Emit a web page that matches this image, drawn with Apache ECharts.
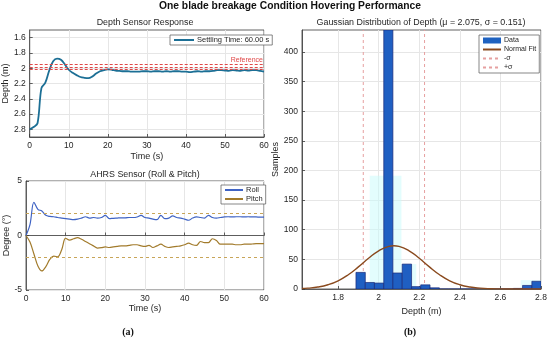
<!DOCTYPE html>
<html><head><meta charset="utf-8">
<script src="https://cdn.jsdelivr.net/npm/echarts@6/dist/echarts.min.js"></script>
<style>html,body{margin:0;padding:0;background:#fff}#c{width:550px;height:341px}</style>
</head><body><div id="c"></div>
<script>
// ---- data ----
const timeS = [0,1,2,3,4,5,6,7,8,9,10,11,12,13,14,15,16,17,18,19,20,21,22,23,24,25,26,27,28,29,30,31,32,33,34,35,36,37,38,39,40,41,42,43,44,45,46,47,48,49,50,51,52,53,54,55,56,57,58,59,60];
const depth = [2.80,2.77,2.72,2.26,2.19,2.03,1.91,1.875,1.89,1.95,2.02,2.06,2.09,2.115,2.125,2.13,2.11,2.07,2.04,2.025,2.015,2.02,2.03,2.035,2.04,2.04,2.045,2.045,2.045,2.04,2.04,2.045,2.04,2.04,2.045,2.04,2.045,2.04,2.04,2.045,2.045,2.05,2.045,2.04,2.045,2.04,2.04,2.035,2.025,2.025,2.03,2.035,2.025,2.03,2.035,2.025,2.03,2.025,2.025,2.035,2.045];
const refLines = [1.95, 1.985, 2.02];
const depthTicks = [1.6,1.8,2,2.2,2.4,2.6,2.8];
const roll = [0,1.0,3.05,2.4,2.25,1.85,1.75,1.72,1.65,1.6,1.55,1.5,1.45,1.5,1.6,1.72,1.6,1.65,1.6,1.65,1.85,1.55,1.58,1.6,1.62,1.62,1.65,1.65,1.7,1.85,1.65,1.6,1.5,1.45,1.85,1.55,1.6,1.8,1.65,1.6,1.5,1.4,1.6,1.7,1.65,1.6,1.85,1.65,1.6,1.65,1.7,1.72,1.7,1.72,1.72,1.7,1.72,1.7,1.7,1.68,1.68];
const pitch = [0,-0.6,-1.7,-2.8,-3.25,-2.85,-2.2,-1.9,-1.95,-1.3,-0.25,-0.42,-0.3,-0.2,-0.35,-0.55,-0.75,-0.95,-1.15,-1.12,-1.05,-1.1,-1.05,-1.0,-0.95,-0.95,-0.9,-0.85,-0.85,-0.95,-1.0,-0.9,-1.1,-0.95,-0.8,-1.0,-1.1,-1.05,-1.0,-0.95,-0.85,-0.7,-0.85,-0.9,-0.55,-0.65,-0.65,-0.3,-0.45,-0.8,-0.8,-0.8,-0.8,-0.85,-0.85,-0.8,-0.8,-0.78,-0.75,-0.75,-0.75];
const limitLines = [2, -2];
const binEdges = [1.888,1.934,1.979,2.025,2.070,2.116,2.162,2.207,2.253,2.299,2.344,2.390,2.436,2.481,2.527,2.572,2.618,2.664,2.709,2.755,2.800];
const binCounts = [28,11,10,437,27,42,4,7,2,0,0,0,0,0,0,0,0,1,6,13];
const fitX = [1.622,1.65,1.70,1.75,1.80,1.85,1.90,1.95,2.00,2.05,2.075,2.10,2.15,2.20,2.25,2.30,2.35,2.40,2.45,2.50,2.55,2.60,2.65,2.70,2.75,2.80];
const fitY = [0.8,1.4,3.3,7.2,13.9,24.1,37.3,51.8,64.5,72.0,73.0,72.0,64.5,51.8,37.3,24.1,13.9,7.2,3.3,1.4,0.5,0.17,0.05,0.01,0,0];
const sigmaLines = [1.924, 2.226];
const ghostAreas = [[1.956,2.112,191],[2.112,2.185,42],[2.70,2.80,15]];
const histXTicks = [1.8,2,2.2,2.4,2.6,2.8];
const histYTicks = [0,50,100,150,200,250,300,350,400];

// ---- styles ----
const FONT = 'Liberation Sans';
const TXT = '#262626';
const lbl = {color: TXT, fontSize: 8.5, fontFamily: FONT, margin: 4};
const split = {show: true, lineStyle: {color: '#e6e6e6', width: 1}};
const aline = {show: true, lineStyle: {color: '#3a3a3a', width: 0.8}};
const atick = {show: true, inside: true, length: 3, lineStyle: {color: '#3a3a3a', width: 0.8}};
const nameStyle = {color: TXT, fontSize: 9, fontFamily: FONT};
const subTitle = {fontSize: 8.9, fontWeight: 'normal', color: TXT, fontFamily: FONT};
const legBase = {orient: 'vertical', padding: [1, 3], backgroundColor: '#fff', borderColor: '#555', borderWidth: 0.7,
  borderRadius: 0, itemStyle: {opacity: 0}, textStyle: {fontSize: 7.5, color: TXT, fontFamily: FONT, padding: [0, 0, 0, -2]}};

const chart = echarts.init(document.getElementById('c'), null, {renderer: 'canvas'});
const option = {
  animation: false,
  backgroundColor: '#fff',
  title: [
    {text: 'One blade breakage Condition Hovering Performance', left: 290, textAlign: 'center', top: 1, padding: 0,
     textStyle: {fontSize: 10.3, fontWeight: 'bold', color: '#111', fontFamily: FONT}},
    {text: 'Depth Sensor Response', left: 145, textAlign: 'center', top: 18, padding: 0, textStyle: subTitle},
    {text: 'AHRS Sensor (Roll & Pitch)', left: 145, textAlign: 'center', top: 170, padding: 0, textStyle: subTitle},
    {text: 'Gaussian Distribution of Depth (\u03bc = 2.075, \u03c3 = 0.151)', left: 421, textAlign: 'center', top: 18, padding: 0, textStyle: subTitle},
    {text: '(a)', left: 128, textAlign: 'center', top: 327, padding: 0,
     textStyle: {fontSize: 10, fontWeight: 'bold', color: '#111', fontFamily: 'Liberation Serif'}},
    {text: '(b)', left: 410, textAlign: 'center', top: 327, padding: 0,
     textStyle: {fontSize: 10, fontWeight: 'bold', color: '#111', fontFamily: 'Liberation Serif'}}
  ],
  grid: [
    {left: 26, top: 30, width: 238, height: 107, show: true, borderColor: '#3a3a3a', borderWidth: 0.8, backgroundColor: 'transparent'},
    {left: 26, top: 181, width: 238, height: 109, show: true, borderColor: '#3a3a3a', borderWidth: 0.8, backgroundColor: 'transparent'},
    {left: 302, top: 30, width: 239, height: 259, show: true, borderColor: '#3a3a3a', borderWidth: 0.8, backgroundColor: 'transparent'}
  ],
  xAxis: [
    {type: 'value', gridIndex: 0, min: 0, max: 60, interval: 10, axisLabel: lbl, axisLine: aline, axisTick: atick, splitLine: split,
     name: 'Time (s)', nameLocation: 'middle', nameGap: 15, nameTextStyle: nameStyle},
    {type: 'value', gridIndex: 1, min: 0, max: 60, interval: 10, axisLabel: lbl, axisLine: aline, axisTick: atick, splitLine: split,
     name: 'Time (s)', nameLocation: 'middle', nameGap: 14, nameTextStyle: nameStyle},
    {type: 'value', gridIndex: 2, min: 1.622, max: 2.8,
     axisLabel: Object.assign({}, lbl, {customValues: histXTicks}), axisTick: Object.assign({}, atick, {customValues: histXTicks}),
     axisLine: aline, splitLine: split,
     name: 'Depth (m)', nameLocation: 'middle', nameGap: 14, nameTextStyle: nameStyle}
  ],
  yAxis: [
    {type: 'value', gridIndex: 0, inverse: true, min: 1.5, max: 2.9,
     axisLabel: Object.assign({}, lbl, {customValues: depthTicks}), axisTick: Object.assign({}, atick, {customValues: depthTicks}),
     axisLine: aline, splitLine: split,
     name: 'Depth (m)', nameLocation: 'middle', nameGap: 15, nameTextStyle: nameStyle},
    {type: 'value', gridIndex: 1, min: -5, max: 5, interval: 5, axisLabel: lbl, axisLine: aline, axisTick: atick, splitLine: split,
     name: 'Degree (\u00b0)', nameLocation: 'middle', nameGap: 14, nameTextStyle: nameStyle},
    {type: 'value', gridIndex: 2, min: 0, max: 437,
     axisLabel: Object.assign({}, lbl, {customValues: histYTicks}), axisTick: Object.assign({}, atick, {customValues: histYTicks}),
     axisLine: aline, splitLine: split,
     name: 'Samples', nameLocation: 'middle', nameGap: 20, nameTextStyle: nameStyle}
  ],
  legend: [
    Object.assign({}, legBase, {left: 170, top: 35, data: ['Settling Time: 60.00 s'], itemWidth: 20, itemHeight: 8}),
    Object.assign({}, legBase, {left: 221, top: 185, data: ['Roll', 'Pitch'], itemWidth: 18, itemHeight: 8, itemGap: 1}),
    Object.assign({}, legBase, {left: 479, top: 35, itemWidth: 18, itemHeight: 6, itemGap: 2, padding: [2, 3],
     data: [{name: 'Data', icon: 'rect', itemStyle: {opacity: 1}}, 'Normal Fit', '-\u03c3', '+\u03c3'],
     textStyle: {fontSize: 7, color: TXT, fontFamily: FONT, padding: [0, 0, 0, -2]}})
  ],
  series: [
    {name: 'Settling Time: 60.00 s', type: 'line', xAxisIndex: 0, yAxisIndex: 0, symbol: 'none', smooth: 0.35,
     data: timeS.map((t, i) => [t, depth[i]]), lineStyle: {color: '#1c6f95', width: 1.8}, itemStyle: {color: '#1c6f95'},
     markLine: {symbol: 'none', silent: true, animation: false,
       lineStyle: {type: [3, 2], color: '#e04848', width: 1},
       label: {show: false},
       data: refLines.map((v, i) => ({yAxis: v, label: i === 0 ? {show: true, formatter: 'Reference', position: 'insideEndTop', distance: [1, 1], color: '#e04848', fontSize: 7, fontFamily: FONT} : {show: false}}))}},
    {name: 'Roll', type: 'line', xAxisIndex: 1, yAxisIndex: 1, symbol: 'none', smooth: 0.35,
     data: timeS.map((t, i) => [t, roll[i]]), lineStyle: {color: '#3f63c4', width: 1.2}, itemStyle: {color: '#3f63c4'},
     markLine: {symbol: 'none', silent: true, animation: false,
       lineStyle: {type: [3, 3], color: '#c8a558', width: 1}, label: {show: false},
       data: limitLines.map(v => ({yAxis: v}))}},
    {name: 'Pitch', type: 'line', xAxisIndex: 1, yAxisIndex: 1, symbol: 'none', smooth: 0.35,
     data: timeS.map((t, i) => [t, pitch[i]]), lineStyle: {color: '#a27b2c', width: 1.2}, itemStyle: {color: '#a27b2c'}},
    {name: 'Data', type: 'custom', xAxisIndex: 2, yAxisIndex: 2, clip: true,
     data: binCounts.map((c, i) => [binEdges[i], binEdges[i + 1], c]),
     encode: {x: [0, 1], y: 2},
     itemStyle: {color: '#1f62c0'},
     renderItem: function (params, api) {
       const p0 = api.coord([api.value(0), api.value(2)]);
       const p1 = api.coord([api.value(1), 0]);
       const rect = echarts.graphic.clipRectByRect({x: p0[0], y: p0[1], width: p1[0] - p0[0], height: p1[1] - p0[1]},
         {x: params.coordSys.x, y: params.coordSys.y, width: params.coordSys.width, height: params.coordSys.height});
       if (!rect) return null;
       return {type: 'rect', shape: rect, style: {fill: '#1f5fc2', stroke: '#1a2a78', lineWidth: 0.7}};
     },
     markArea: {silent: true, itemStyle: {color: 'rgba(200,252,252,0.5)'},
       data: ghostAreas.map(a => [{coord: [a[0], 0]}, {coord: [a[1], a[2]]}])},
     z: 2},
    {name: 'Normal Fit', type: 'line', xAxisIndex: 2, yAxisIndex: 2, symbol: 'none', smooth: true,
     data: fitX.map((x, i) => [x, fitY[i]]), lineStyle: {color: '#8a4a1e', width: 1.4}, itemStyle: {color: '#e04040'}, z: 4},
    {name: '-\u03c3', type: 'line', xAxisIndex: 2, yAxisIndex: 2, symbol: 'none',
     data: [[sigmaLines[0], 0], [sigmaLines[0], 437]], lineStyle: {color: '#e6a0a0', width: 1, type: [3, 3]}, itemStyle: {color: '#e6a0a0'}, z: 1},
    {name: '+\u03c3', type: 'line', xAxisIndex: 2, yAxisIndex: 2, symbol: 'none',
     data: [[sigmaLines[1], 0], [sigmaLines[1], 437]], lineStyle: {color: '#e6a0a0', width: 1, type: [3, 3]}, itemStyle: {color: '#e6a0a0'}, z: 1}
  ]
};
chart.setOption(option);
</script>
</body></html>
